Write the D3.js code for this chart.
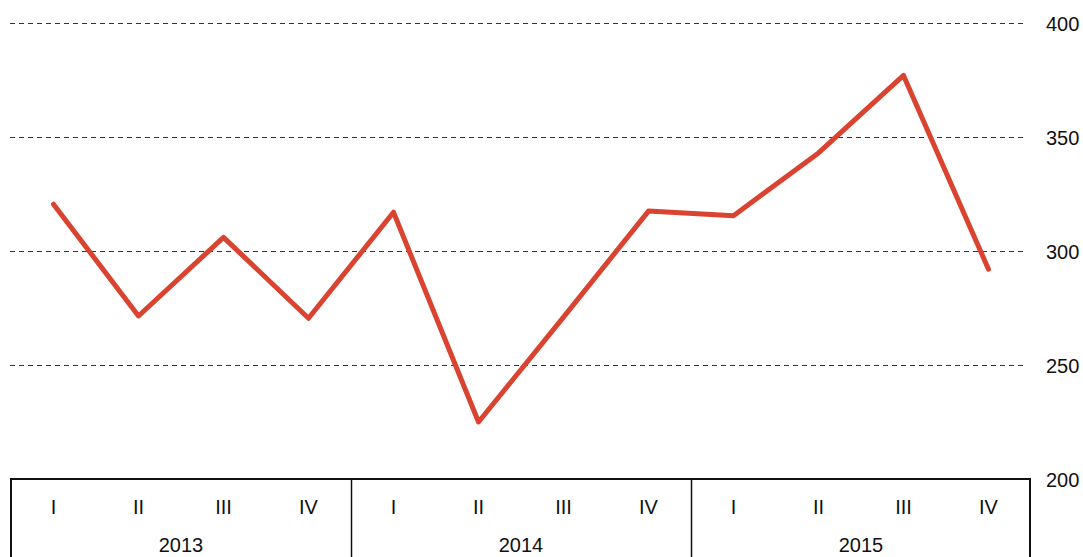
<!DOCTYPE html>
<html>
<head>
<meta charset="utf-8">
<script src="https://cdn.jsdelivr.net/npm/d3@7"></script>
<style>
  body { margin: 0; background: #fff; }
  svg { display: block; font-family: "Liberation Sans", Arial, sans-serif; }
</style>
</head>
<body>
<div id="container"></div>
<script>
// data
var years = ["2013", "2014", "2015"];
var quarters = ["I", "II", "III", "IV"];
var values = [320.5, 271.5, 306, 270.5, 317, 225, 271, 317.5, 315.5, 343, 377, 292];
var yTicks = [200, 250, 300, 350, 400];

var width = 1083, height = 557;
var plotLeft = 11, plotRight = 1031;   // plot area / table box
var plotTop = 23, plotBottom = 479;    // 400 .. 200
var fontSize = "20px";

var svg = d3.select("#container").append("svg")
	.attr("width", width)
	.attr("height", height);

var periods = [];
years.forEach(function(yr) { quarters.forEach(function(q) { periods.push(yr + "-" + q); }); });

var x = d3.scaleBand().domain(periods).range([plotLeft, plotRight]);
var y = d3.scaleLinear().domain([200, 400]).range([plotBottom, plotTop]);

// grid lines
svg.selectAll(".grid")
	.data(yTicks.filter(function(d) { return d > 200; }))
	.enter().append("line")
	.attr("x1", 10)
	.attr("x2", 1027)
	.attr("y1", function(d) { return y(d) + 0.5; })
	.attr("y2", function(d) { return y(d) + 0.5; })
	.style("stroke", "#333")
	.style("stroke-width", "1px")
	.style("stroke-dasharray", "5,4");

// right axis labels
svg.selectAll(".ylab")
	.data(yTicks)
	.enter().append("text")
	.attr("x", 1046)
	.attr("y", function(d) { return y(d) + 8; })
	.style("font-size", fontSize)
	.style("fill", "#111")
	.text(function(d) { return d; });

// table below
svg.append("rect")
	.attr("x", plotLeft)
	.attr("y", plotBottom)
	.attr("width", plotRight - plotLeft - 1)
	.attr("height", 200)
	.attr("fill", "none")
	.style("stroke", "#111")
	.style("stroke-width", "2px");

years.slice(1).forEach(function(yr) {
	var xp = Math.round(x(yr + "-I")) + 0.5;
	svg.append("line")
		.attr("x1", xp).attr("x2", xp)
		.attr("y1", plotBottom).attr("y2", height)
		.style("stroke", "#111")
		.style("stroke-width", "1.5px");
});

svg.selectAll(".qlab")
	.data(periods)
	.enter().append("text")
	.attr("x", function(d) { return x(d) + x.bandwidth() / 2; })
	.attr("y", 514)
	.attr("text-anchor", "middle")
	.style("font-size", fontSize)
	.style("fill", "#111")
	.text(function(d) { return d.split("-")[1]; });

svg.selectAll(".yrlab")
	.data(years)
	.enter().append("text")
	.attr("x", function(d) { return x(d + "-II") + x.bandwidth(); })
	.attr("y", 552)
	.attr("text-anchor", "middle")
	.style("font-size", fontSize)
	.style("fill", "#111")
	.text(function(d) { return d; });

// line
var line = d3.line()
	.x(function(d, i) { return x(periods[i]) + x.bandwidth() / 2; })
	.y(function(d) { return y(d); });

svg.append("path")
	.datum(values)
	.attr("d", line)
	.attr("fill", "none")
	.style("stroke", "#d94330")
	.style("stroke-width", "5px")
	.style("stroke-linejoin", "round")
	.style("stroke-linecap", "round");
</script>
</body>
</html>
